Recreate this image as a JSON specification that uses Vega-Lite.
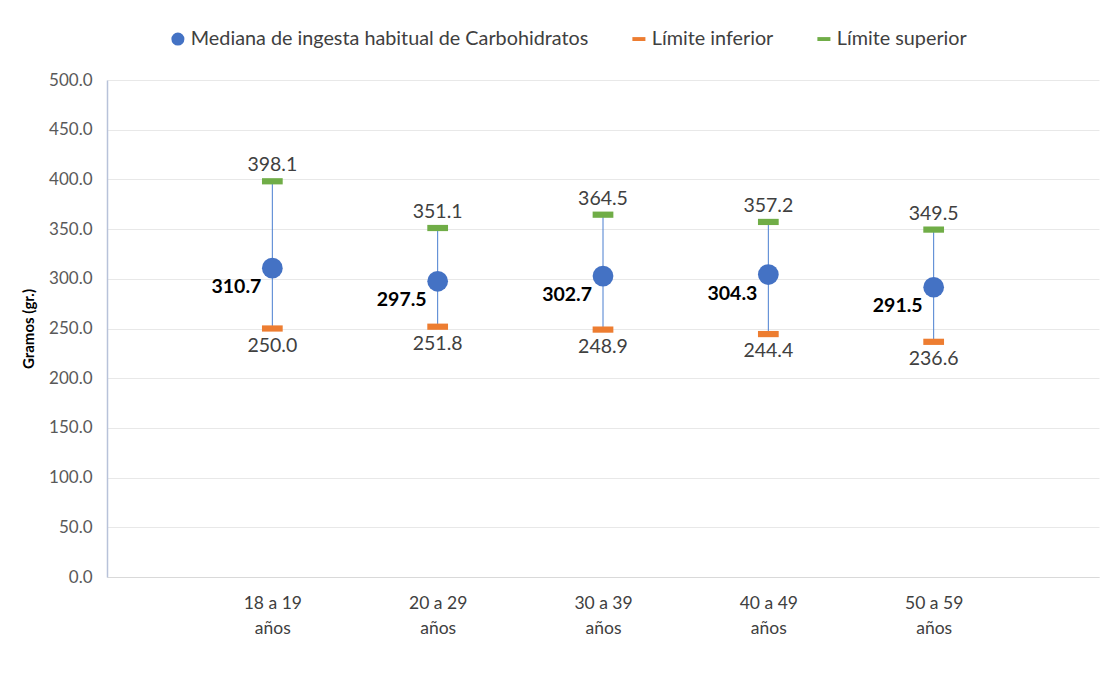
{
  "$schema": "https://vega.github.io/schema/vega-lite/v6.json",
  "autosize": {"type": "none"},
  "width": 992,
  "height": 497,
  "padding": {"left": 107, "top": 80, "right": 20, "bottom": 105},
  "background": "white",
  "config": {
    "font": "Lato",
    "view": {"stroke": null},
    "axis": {"labelFont": "Lato", "titleFont": "Lato"},
    "legend": {"labelFont": "Lato"}
  },
  "data": {
    "values": [
      {"cat": "18 a 19 años", "serie": "Mediana de ingesta habitual de Carbohidratos", "v": 310.7},
      {"cat": "18 a 19 años", "serie": "Límite inferior", "v": 250.0},
      {"cat": "18 a 19 años", "serie": "Límite superior", "v": 398.1},
      {"cat": "20 a 29 años", "serie": "Mediana de ingesta habitual de Carbohidratos", "v": 297.5},
      {"cat": "20 a 29 años", "serie": "Límite inferior", "v": 251.8},
      {"cat": "20 a 29 años", "serie": "Límite superior", "v": 351.1},
      {"cat": "30 a 39 años", "serie": "Mediana de ingesta habitual de Carbohidratos", "v": 302.7},
      {"cat": "30 a 39 años", "serie": "Límite inferior", "v": 248.9},
      {"cat": "30 a 39 años", "serie": "Límite superior", "v": 364.5},
      {"cat": "40 a 49 años", "serie": "Mediana de ingesta habitual de Carbohidratos", "v": 304.3},
      {"cat": "40 a 49 años", "serie": "Límite inferior", "v": 244.4},
      {"cat": "40 a 49 años", "serie": "Límite superior", "v": 357.2},
      {"cat": "50 a 59 años", "serie": "Mediana de ingesta habitual de Carbohidratos", "v": 291.5},
      {"cat": "50 a 59 años", "serie": "Límite inferior", "v": 236.6},
      {"cat": "50 a 59 años", "serie": "Límite superior", "v": 349.5}
    ]
  },
  "encoding": {
    "x": {
      "field": "cat",
      "type": "nominal",
      "sort": null,
      "scale": {"type": "point", "padding": 0, "domain": ["_0", "18 a 19 años", "20 a 29 años", "30 a 39 años", "40 a 49 años", "50 a 59 años", "_6"]},
      "axis": {
        "title": null,
        "labelAngle": 0,
        "ticks": false,
        "domainColor": "#d9d9d9",
        "grid": false,
        "labelFontSize": 17.5,
        "labelColor": "#404040",
        "labelPadding": 17,
        "labelLineHeight": 25,
        "labelBaseline": "top",
        "labelExpr": "indexof(datum.label, '_') == 0 ? '' : [replace(datum.label, ' años', ''), 'años']"
      }
    }
  },
  "layer": [
    {
      "transform": [{"pivot": "serie", "value": "v", "groupby": ["cat"]}],
      "mark": {"type": "rule", "color": "#4a7fd0", "strokeWidth": 1},
      "encoding": {
        "y": {"field": "Límite inferior", "type": "quantitative"},
        "y2": {"field": "Límite superior"}
      }
    },
    {
      "mark": {"type": "point", "filled": true, "opacity": 1, "size": 430},
      "encoding": {
        "y": {
          "field": "v",
          "type": "quantitative",
          "scale": {"domain": [0, 500]},
          "axis": {
            "title": "Gramos (gr.)",
            "titleFontSize": 15,
            "titleFontWeight": "bold",
            "titleColor": "#000000",
            "titlePadding": 12,
            "values": [0, 50, 100, 150, 200, 250, 300, 350, 400, 450, 500],
            "format": ".1f",
            "ticks": false,
            "labelFontSize": 17,
            "labelColor": "#595959",
            "labelPadding": 15,
            "domainColor": "#b8c2d9",
            "domainWidth": 1.5,
            "gridColor": "#e8e8e8",
            "gridWidth": 1
          }
        },
        "color": {
          "field": "serie",
          "type": "nominal",
          "scale": {
            "domain": ["Mediana de ingesta habitual de Carbohidratos", "Límite inferior", "Límite superior"],
            "range": ["#4472c4", "#ed7d31", "#70ad47"]
          },
          "legend": {
            "title": null,
            "orient": "none",
            "direction": "horizontal",
            "legendX": 61,
            "legendY": -51,
            "labelFontSize": 19.8,
            "labelColor": "#404040",
            "labelLimit": 0,
            "symbolSize": 170,
            "columnPadding": 40,
            "labelOffset": 3
          }
        },
        "shape": {
          "field": "serie",
          "type": "nominal",
          "scale": {
            "domain": ["Mediana de ingesta habitual de Carbohidratos", "Límite inferior", "Límite superior"],
            "range": ["circle", "M-1,-0.3H1V0.3H-1Z", "M-1,-0.3H1V0.3H-1Z"]
          },
          "legend": null
        }
      }
    },
    {
      "transform": [{"filter": "datum.serie == 'Límite superior'"}],
      "mark": {"type": "text", "fontSize": 19.5, "color": "#404040", "baseline": "bottom", "dy": -6},
      "encoding": {
        "y": {"field": "v", "type": "quantitative"},
        "text": {"field": "v", "type": "quantitative", "format": ".1f"}
      }
    },
    {
      "transform": [{"filter": "datum.serie == 'Límite inferior'"}],
      "mark": {"type": "text", "fontSize": 19.5, "color": "#404040", "baseline": "top", "dy": 8},
      "encoding": {
        "y": {"field": "v", "type": "quantitative"},
        "text": {"field": "v", "type": "quantitative", "format": ".1f"}
      }
    },
    {
      "transform": [{"filter": "datum.serie == 'Mediana de ingesta habitual de Carbohidratos'"}],
      "mark": {"type": "text", "fontSize": 19.5, "fontWeight": "bold", "color": "#000000", "align": "right", "baseline": "middle", "dx": -11, "dy": 19},
      "encoding": {
        "y": {"field": "v", "type": "quantitative"},
        "text": {"field": "v", "type": "quantitative", "format": ".1f"}
      }
    }
  ]
}
